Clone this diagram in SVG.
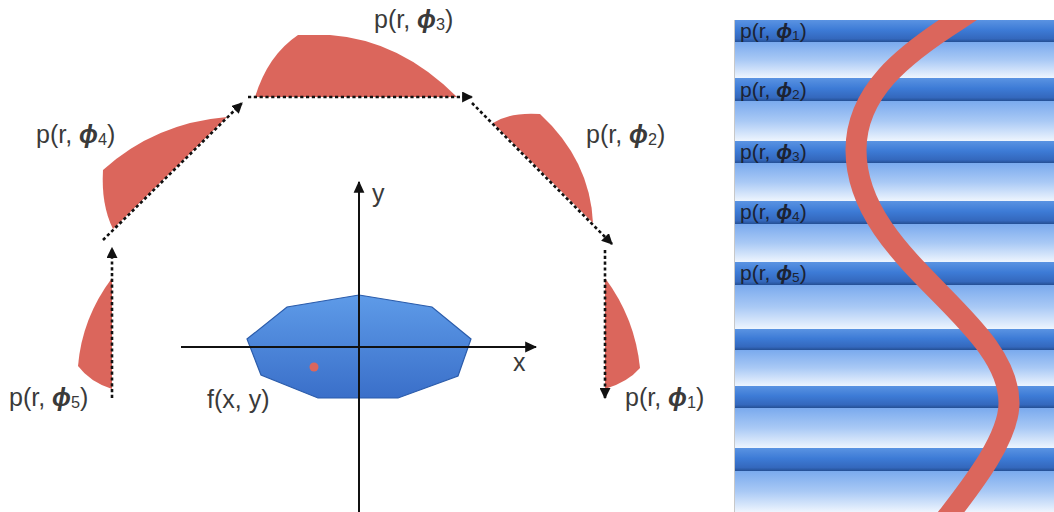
<svg xmlns="http://www.w3.org/2000/svg" width="1054" height="512" viewBox="0 0 1054 512">
<defs>
<style>
.lbl{font-family:"Liberation Sans",Arial,sans-serif;font-size:25px;fill:#3a3a3a}
.rl{font-family:"Liberation Sans",Arial,sans-serif;font-size:21px;fill:#1c2333}
.phi{font-style:italic;font-weight:bold}
.sub{font-size:65%}
.wedge{fill:#db665c}
.dash{fill:none;stroke:#111;stroke-width:2.6;stroke-dasharray:3.2 2.6}
.axis{fill:none;stroke:#111;stroke-width:2}
.band{fill:url(#bandG)}
.light{fill:url(#lightG)}
</style>
<marker id="ah" viewBox="0 0 10 10" refX="9" refY="5" markerWidth="11" markerHeight="11" markerUnits="userSpaceOnUse" orient="auto">
<path d="M0,0 L10,5 L0,10 Z" fill="#111"/>
</marker>
<marker id="ah2" viewBox="0 0 10 10" refX="9" refY="5" markerWidth="12" markerHeight="12" markerUnits="userSpaceOnUse" orient="auto">
<path d="M0,0.5 L10,5 L0,9.5 Z" fill="#111"/>
</marker>
<linearGradient id="objG" x1="0" y1="0" x2="0" y2="1">
<stop offset="0" stop-color="#5e9be8"/>
<stop offset="1" stop-color="#3a6fc9"/>
</linearGradient>
<linearGradient id="bandG" x1="0" y1="0" x2="0" y2="1">
<stop offset="0" stop-color="#5a93e2"/>
<stop offset="0.45" stop-color="#3d7bd6"/>
<stop offset="0.85" stop-color="#3468bd"/>
<stop offset="1" stop-color="#244f94"/>
</linearGradient>
<linearGradient id="lightG" x1="0" y1="0" x2="0" y2="1">
<stop offset="0" stop-color="#7aaaee"/>
<stop offset="0.5" stop-color="#a9c9f5"/>
<stop offset="1" stop-color="#eef5fe"/>
</linearGradient>
<clipPath id="panelClip"><rect x="735" y="20" width="319" height="492"/></clipPath>
</defs>
<rect width="1054" height="512" fill="#fff"/>

<g id="axes">
<line class="axis" x1="359" y1="512" x2="359" y2="182" marker-end="url(#ah2)"/>
</g>

<g id="object">
<polygon points="359,295 432,307 471,339 458,376 398,398 318,398 261,375 247,339 287,307" fill="url(#objG)" stroke="#2b5cab" stroke-width="1.2"/>
<circle cx="314" cy="367" r="4.5" fill="#db665c"/>
<line class="axis" x1="181" y1="347" x2="536" y2="347" marker-end="url(#ah2)"/>
<line class="axis" x1="359" y1="290" x2="359" y2="410"/>
<text class="lbl" x="513" y="371">x</text>
<text class="lbl" x="372" y="202">y</text>
<text class="lbl" x="207" y="408">f(x, y)</text>
</g>

<g id="p1">
<path class="wedge" d="M605,278 Q635,318 640,368 Q628,382 605,389 Z"/>
<text class="lbl" x="625" y="406">p(r, <tspan class="phi">ϕ</tspan><tspan class="sub" dy="2">1</tspan><tspan dy="-2">)</tspan></text>
</g>
<g id="p2">
<path class="wedge" d="M493,123 L593,223 Q590,160 540,114 Q510,112 493,123 Z"/>
<text class="lbl" x="586" y="143">p(r, <tspan class="phi">ϕ</tspan><tspan class="sub" dy="2">2</tspan><tspan dy="-2">)</tspan></text>
</g>
<g id="p3">
<path class="wedge" d="M255,97 L457,97 Q400,40 330,35 L298,35 Q268,55 255,97 Z"/>
<text class="lbl" x="374" y="28">p(r, <tspan class="phi">ϕ</tspan><tspan class="sub" dy="2">3</tspan><tspan dy="-2">)</tspan></text>
</g>
<g id="p4">
<path class="wedge" d="M113,229 L227,117 Q155,123 103,170 Q101,205 113,229 Z"/>
<text class="lbl" x="36" y="143">p(r, <tspan class="phi">ϕ</tspan><tspan class="sub" dy="2">4</tspan><tspan dy="-2">)</tspan></text>
</g>
<g id="p5">
<path class="wedge" d="M112,278 Q82,318 78,366 Q90,382 112,389 Z"/>
<text class="lbl" x="9" y="406">p(r, <tspan class="phi">ϕ</tspan><tspan class="sub" dy="2">5</tspan><tspan dy="-2">)</tspan></text>
</g>

<g id="connectors">
<line class="dash" x1="112" y1="398" x2="112" y2="248" marker-end="url(#ah)"/>
<line class="dash" x1="103" y1="240" x2="242" y2="103" marker-end="url(#ah)"/>
<line class="dash" x1="248" y1="97" x2="472" y2="97" marker-end="url(#ah)"/>
<line class="dash" x1="472" y1="103" x2="612" y2="244" marker-end="url(#ah)"/>
<line class="dash" x1="605" y1="250" x2="605" y2="398" marker-end="url(#ah)"/>
</g>

<g id="sinogram">
<line x1="734.5" y1="20" x2="734.5" y2="512" stroke="#c8c8c8" stroke-width="1"/>
<g clip-path="url(#panelClip)">
<rect class="light" x="735" y="42" width="319" height="36"/>
<rect class="light" x="735" y="101" width="319" height="40"/>
<rect class="light" x="735" y="163" width="319" height="38"/>
<rect class="light" x="735" y="224" width="319" height="38"/>
<rect class="light" x="735" y="285" width="319" height="44"/>
<rect class="light" x="735" y="350" width="319" height="36"/>
<rect class="light" x="735" y="408" width="319" height="40"/>
<rect class="light" x="735" y="471" width="319" height="41"/>
<rect class="band" x="735" y="20" width="319" height="22"/>
<rect class="band" x="735" y="78" width="319" height="23"/>
<rect class="band" x="735" y="141" width="319" height="22"/>
<rect class="band" x="735" y="201" width="319" height="23"/>
<rect class="band" x="735" y="262" width="319" height="23"/>
<rect class="band" x="735" y="329" width="319" height="21"/>
<rect class="band" x="735" y="386" width="319" height="22"/>
<rect class="band" x="735" y="448" width="319" height="23"/>
<path d="M976,8 L958,20 C903,55 856,92 856,150 C856,260 1009,318 1009,403 C1009,440 968,490 945,520" fill="none" stroke="#db665c" stroke-width="21"/>
</g>
<text class="rl" x="740" y="38">p(r, <tspan class="phi">ϕ</tspan><tspan class="sub" dy="2">1</tspan><tspan dy="-2">)</tspan></text>
<text class="rl" x="740" y="97">p(r, <tspan class="phi">ϕ</tspan><tspan class="sub" dy="2">2</tspan><tspan dy="-2">)</tspan></text>
<text class="rl" x="740" y="159">p(r, <tspan class="phi">ϕ</tspan><tspan class="sub" dy="2">3</tspan><tspan dy="-2">)</tspan></text>
<text class="rl" x="740" y="219">p(r, <tspan class="phi">ϕ</tspan><tspan class="sub" dy="2">4</tspan><tspan dy="-2">)</tspan></text>
<text class="rl" x="740" y="280">p(r, <tspan class="phi">ϕ</tspan><tspan class="sub" dy="2">5</tspan><tspan dy="-2">)</tspan></text>
</g>
</svg>
